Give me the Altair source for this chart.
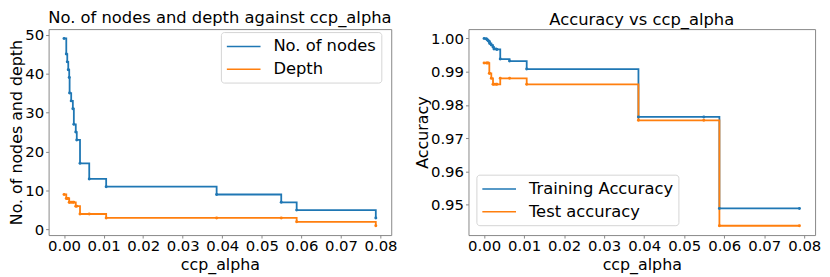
import altair as alt
import pandas as pd

# ---- data ----
alphas = [0.0, 0.00057, 0.00082, 0.00107, 0.00131, 0.00141, 0.00181, 0.00223,
          0.00248, 0.00297, 0.00322, 0.00404, 0.00637, 0.01065, 0.03857,
          0.0549, 0.0588, 0.0788]
nodes = [49, 45, 43, 41, 39, 35, 33, 31, 27, 25, 23, 17, 13, 11, 9, 7, 5, 3]
depth = [9, 8, 8, 8, 7, 7, 7, 7, 7, 6, 6, 4, 4, 3, 3, 3, 2, 1]
train_acc = [1.0, 0.9998, 0.9995, 0.9992, 0.999, 0.9985, 0.998, 0.9974,
             0.9968, 0.9968, 0.9967, 0.9938, 0.9932, 0.9908, 0.9764, 0.9764,
             0.9489, 0.9489]
test_acc = [0.9926, 0.9926, 0.9926, 0.9926, 0.9895, 0.9895, 0.988, 0.9862,
            0.9862, 0.9862, 0.9862, 0.988, 0.988, 0.9862, 0.9754, 0.9754,
            0.9437, 0.9437]

left_series = ["No. of nodes", "Depth"]
right_series = ["Training Accuracy", "Test accuracy"]
colors = ["#1f77b4", "#ff7f0e"]
x_ticks = [0.0, 0.01, 0.02, 0.03, 0.04, 0.05, 0.06, 0.07, 0.08]
left_y_ticks = [0, 10, 20, 30, 40, 50]
right_y_ticks = [0.95, 0.96, 0.97, 0.98, 0.99, 1.0]

n = len(alphas)
df_left = pd.DataFrame({
    "ccp_alpha": alphas + alphas,
    "value": nodes + depth,
    "series": [left_series[0]] * n + [left_series[1]] * n,
})
df_right = pd.DataFrame({
    "ccp_alpha": alphas + alphas,
    "value": train_acc + test_acc,
    "series": [right_series[0]] * n + [right_series[1]] * n,
})

H = 208
FONT = "DejaVu Sans"


def panel(df, series, ydomain, yticks, yfmt, ytitle, title, lx, ly, w):
    x = alt.X("ccp_alpha:Q",
              scale=alt.Scale(domain=[-0.0039, 0.0827], nice=False, zero=False),
              axis=alt.Axis(values=x_ticks, format=".2f", title="ccp_alpha",
                            labelPadding=1, titlePadding=3))
    y = alt.Y("value:Q",
              scale=alt.Scale(domain=ydomain, nice=False, zero=False),
              axis=alt.Axis(values=yticks, format=yfmt, title=ytitle,
                            labelPadding=2, titlePadding=0))
    color = alt.Color(
        "series:N",
        scale=alt.Scale(domain=series, range=colors),
        legend=alt.Legend(
            title=None, orient="none", legendX=lx, legendY=ly,
            symbolType="M-1,0H3", symbolSize=289, symbolStrokeWidth=1.5,
            labelFont=FONT, labelFontSize=16.5, labelColor="black",
            labelOffset=29, labelLimit=400,
            fillColor="white", strokeColor="#d4d4d4", cornerRadius=3,
            padding=5, rowPadding=5,
        ),
    )
    base = alt.Chart(df).encode(x=x, y=y, color=color)
    line = base.mark_line(interpolate="step-after", strokeWidth=1.8)
    pts = base.mark_point(filled=True, size=9, opacity=1).encode(
        color=alt.Color("series:N", scale=alt.Scale(domain=series, range=colors), legend=None))
    return alt.layer(line, pts).properties(
        width=w, height=H,
        title=alt.Title(title, font=FONT, fontSize=16.5, fontWeight="normal",
                        color="black", offset=1),
    )


left = panel(df_left, left_series, [-1.4, 51.4], left_y_ticks, "d",
             "No. of nodes and depth", "No. of nodes and depth against ccp_alpha",
             174, 3, 346)
right = panel(df_right, right_series, [0.9409, 1.0028], right_y_ticks, ".2f",
              "Accuracy", "Accuracy vs ccp_alpha", 8, H - 61, 350)

chart = alt.hconcat(left, right, spacing=16).resolve_scale(
    color="independent").resolve_legend(color="independent").properties(
    padding={"left": 0, "top": 0, "right": 0, "bottom": 0}
).configure_view(stroke="#888", strokeWidth=1).configure_axis(
    labelFont=FONT, labelFontSize=15, labelColor="black",
    titleFont=FONT, titleFontSize=16, titleFontWeight="normal", titleColor="black",
    tickColor="#888", tickSize=3, domain=False, grid=False,
)

chart.save("out.html", embed_options={"renderer": "svg", "actions": False})
